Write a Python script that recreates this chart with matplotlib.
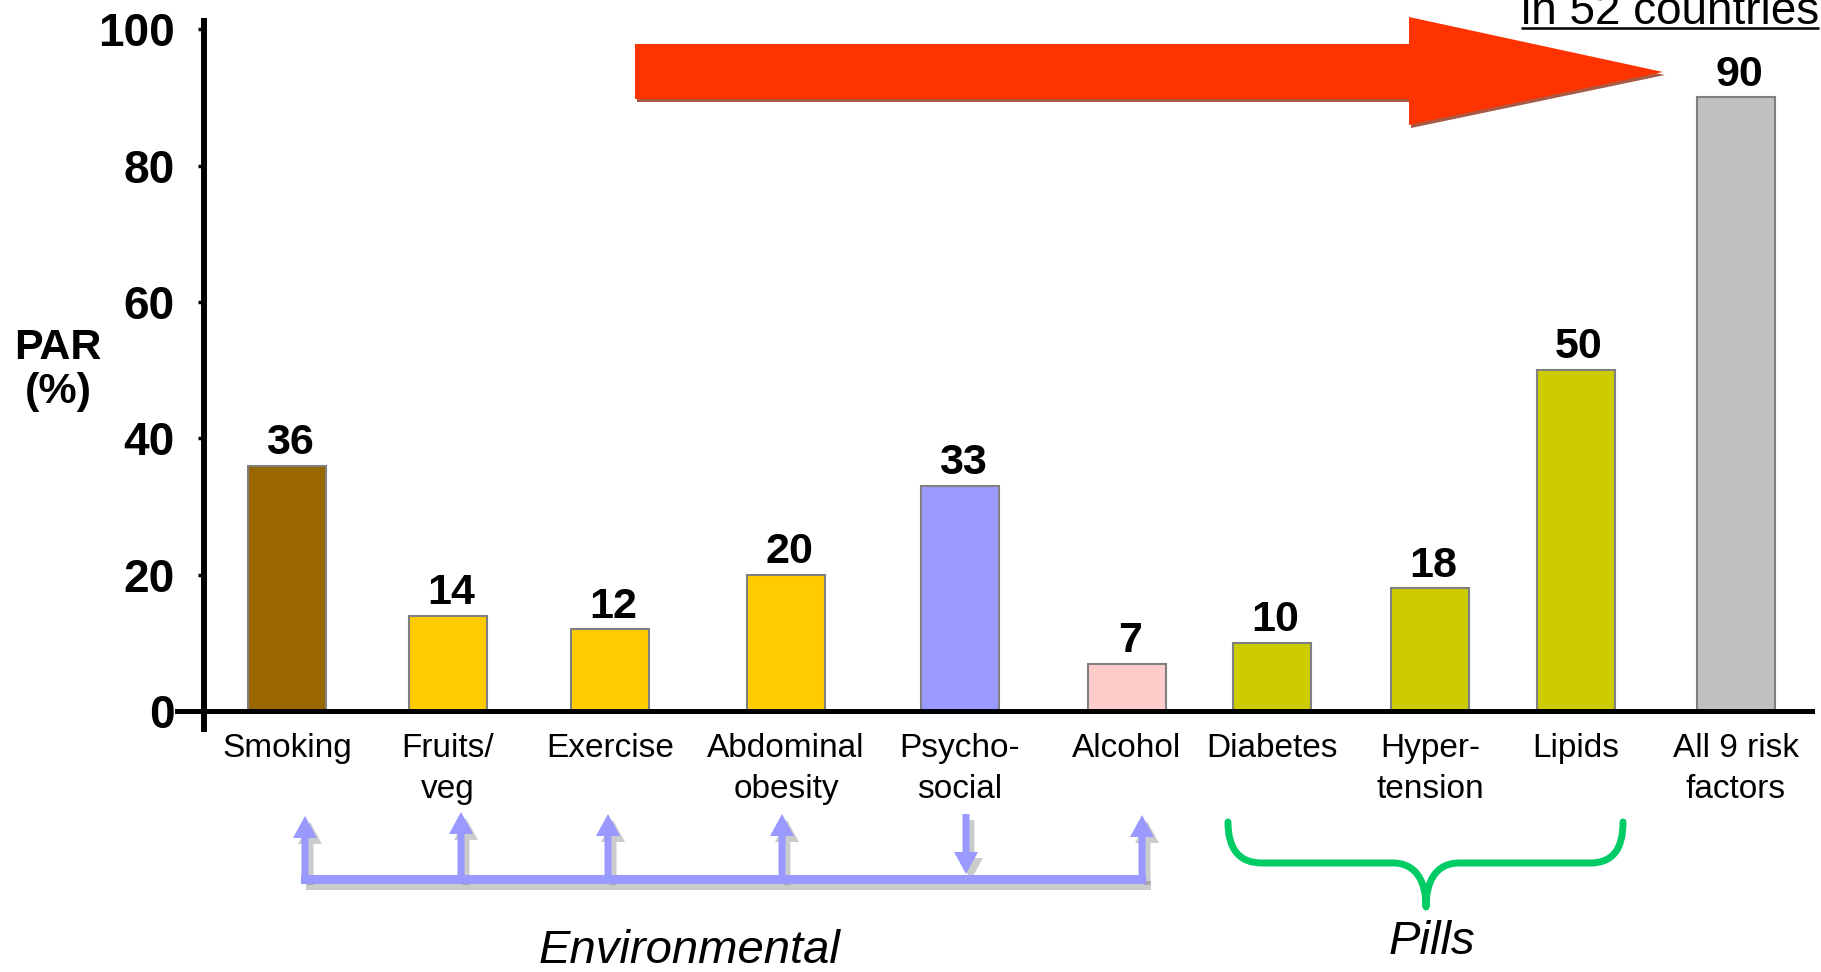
import matplotlib
matplotlib.use("Agg")
import matplotlib.pyplot as plt
from matplotlib.patches import Polygon, PathPatch
from matplotlib.path import Path

plt.rcParams['font.family'] = ['Liberation Sans', 'DejaVu Sans']

# PAR (%) per risk factor
categories = ['Smoking', 'Fruits/\nveg', 'Exercise', 'Abdominal\nobesity', 'Psycho-\nsocial',
              'Alcohol', 'Diabetes', 'Hyper-\ntension', 'Lipids', 'All 9 risk\nfactors']
par_values = [36, 14, 12, 20, 33, 7, 10, 18, 50, 90]
bar_colors = ['#996600', '#FFCC00', '#FFCC00', '#FFCC00', '#9999FF',
              '#FFCCCC', '#CCCC00', '#CCCC00', '#CCCC00', '#C0C0C0']
y_ticks = [0, 20, 40, 60, 80, 100]

# bar centres along the axis (pixel-like units)
bar_x = [287, 448, 610, 786, 960, 1127, 1272, 1430, 1576, 1736]
bar_w = 78

W, H = 1821, 972
fig = plt.figure(figsize=(W / 100, H / 100), dpi=100)

ax = fig.add_axes([177 / W, 1 - 729 / H, (1812 - 177) / W, (729 - 21) / H])
ax.set_xlim(177, 1812)
ax.set_ylim(-2.6, 101.2)
ax.patch.set_alpha(0)

ax.bar(bar_x, par_values, width=bar_w, color=bar_colors,
       edgecolor='#808080', linewidth=1.5, zorder=2)
for x, v in zip(bar_x, par_values):
    ax.text(x + 3, v + 0.4, str(v), ha='center', va='bottom',
            fontsize=31, fontweight='bold')

for s in ['top', 'right']:
    ax.spines[s].set_visible(False)
ax.spines['left'].set_position(('data', 204))
ax.spines['bottom'].set_position(('data', 0))
ax.spines['left'].set_linewidth(4.3)
ax.spines['bottom'].set_linewidth(3.6)
ax.spines['left'].set_zorder(3)

ax.set_yticks(y_ticks)
ax.set_yticklabels([str(t) for t in y_ticks], fontsize=33, fontweight='bold')
ax.tick_params(axis='y', length=4, width=2.5, pad=17)
ax.set_xticks(bar_x)
ax.set_xticklabels(categories, fontsize=24, linespacing=1.38)
ax.tick_params(axis='x', length=0, pad=16)

# annotation layer in figure pixels
ov = fig.add_axes([0, 0, 1, 1])
ov.set_xlim(0, W)
ov.set_ylim(H, 0)
ov.axis('off')
ov.patch.set_alpha(0)

ov.text(58, 370, 'PAR\n(%)', ha='center', va='center', fontsize=31,
        fontweight='bold', linespacing=1.15)

# big red arrow
red_pts = [(635, 44), (1409, 44), (1409, 17), (1663, 72),
           (1409, 125), (1409, 99), (635, 99)]
ov.add_patch(Polygon([(x + 2, y + 3) for x, y in red_pts], closed=True,
                     facecolor='#A85A45', edgecolor='none'))
ov.add_patch(Polygon(red_pts, closed=True, facecolor='#FF3300', edgecolor='none'))

# underlined caption at top right
cap = ov.text(1521, 24, 'in 52 countries', fontsize=33, ha='left', va='baseline')
fig.canvas.draw()
bb = cap.get_window_extent()
ov.plot([1521, 1521 + bb.width], [28, 28], color='black', lw=1.8,
        solid_capstyle='butt')


# blue arrows bracket for the environmental factors
def v_arrow(x, y_from, y_tip, half_stem=3.5, half_head=12, head_len=22):
    sgn = 1 if y_tip > y_from else -1
    hb = y_tip - sgn * head_len
    return [(x - half_stem, y_from), (x - half_stem, hb), (x - half_head, hb),
            (x, y_tip), (x + half_head, hb), (x + half_stem, hb), (x + half_stem, y_from)]


bar_y0, bar_y1 = 875, 884
shapes = [[(301, bar_y0), (1146, bar_y0), (1146, bar_y1), (301, bar_y1)]]
for x, tip in [(305, 816), (461, 812), (608, 814), (782, 814), (1142, 815)]:
    shapes.append(v_arrow(x, bar_y0 + 4, tip))
shapes.append(v_arrow(966, 814, 874))

for pts in shapes:
    ov.add_patch(Polygon([(x + 5, y + 6) for x, y in pts], closed=True,
                         facecolor='#555555', alpha=0.3, edgecolor='none'))
for pts in shapes:
    ov.add_patch(Polygon(pts, closed=True, facecolor='#9999FF', edgecolor='none'))

ov.text(689, 951, 'Environmental', ha='center', va='center', fontsize=34, style='italic')

# green curly brace for the pill-treatable factors
brace = Path(
    [(1228, 822), (1228, 850), (1240, 863), (1262, 863),
     (1393, 863),
     (1415, 863), (1426, 880), (1426, 907),
     (1426, 880), (1437, 863), (1459, 863),
     (1590, 863),
     (1612, 863), (1623, 850), (1623, 822)],
    [Path.MOVETO, Path.CURVE4, Path.CURVE4, Path.CURVE4,
     Path.LINETO,
     Path.CURVE4, Path.CURVE4, Path.CURVE4,
     Path.CURVE4, Path.CURVE4, Path.CURVE4,
     Path.LINETO,
     Path.CURVE4, Path.CURVE4, Path.CURVE4])
ov.add_patch(PathPatch(brace, facecolor='none', edgecolor='#00CC66', lw=5,
                       capstyle='round', joinstyle='round'))

ov.text(1432, 942, 'Pills', ha='center', va='center', fontsize=34, style='italic')

fig.savefig('out.png', dpi=100)
